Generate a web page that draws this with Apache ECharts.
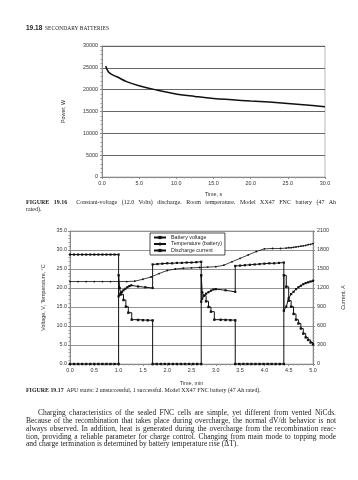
<!DOCTYPE html>
<html><head><meta charset="utf-8">
<script src="https://cdn.jsdelivr.net/npm/echarts@6/dist/echarts.min.js"></script>
<style>
html,body{margin:0;padding:0;background:#fff;}
#c{position:absolute;left:0;top:0;width:358px;height:480px;}
.t{position:absolute;font-family:"Liberation Serif","DejaVu Serif",serif;color:#222;white-space:nowrap;line-height:1;}
.j{position:absolute;font-family:"Liberation Serif","DejaVu Serif",serif;color:#222;white-space:nowrap;line-height:1;text-align:justify;text-align-last:justify;}
</style></head><body>
<div id="c"></div>
<div class="t" style="left:26px;top:25px;font-size:6.5px;font-family:'Liberation Sans',sans-serif;font-weight:bold">19.18</div>
<div class="t" style="left:45px;top:25.5px;font-size:5.4px;letter-spacing:0.1px">SECONDARY BATTERIES</div>
<div class="j" style="left:26px;top:199px;width:310px;font-size:6px;"><b>FIGURE 19.16</b>&nbsp;&nbsp;Constant-voltage (12.0 Volts) discharge. Room temperature. Model XX47 FNC battery (47 Ah</div>
<div class="t" style="left:26px;top:206px;font-size:6px;">rated).</div>
<div class="t" style="left:26px;top:388px;font-size:5.9px;"><b>FIGURE 19.17</b>&nbsp;&nbsp;APU starts: 2 unsuccessful, 1 successful. Model XX47 FNC battery (47 Ah rated).</div>
<div class="j" style="left:38px;top:408.8px;width:298px;font-size:7.5px;">Charging characteristics of the sealed FNC cells are simple, yet different from vented NiCds.</div>
<div class="j" style="left:26px;top:416.7px;width:310px;font-size:7.5px;">Because of the recombination that takes place during overcharge, the normal dV/dt behavior is not</div>
<div class="j" style="left:26px;top:424.6px;width:310px;font-size:7.5px;">always observed. In addition, heat is generated during the overcharge from the recombination reac-</div>
<div class="j" style="left:26px;top:432.5px;width:310px;font-size:7.5px;">tion, providing a reliable parameter for charge control. Changing from main mode to topping mode</div>
<div class="t" style="left:26px;top:440.4px;font-size:7.5px;">and charge termination is determined by battery temperature rise (ΔT).</div>
<script>
// Figure 19.16
const powerTime = [0.5, 0.85, 1.3, 2.0, 3.3, 5.1, 7.4, 10.1, 12.5, 15, 17.5, 20, 22.5, 25, 27.5, 30];
const powerW    = [25400, 24100, 23500, 22950, 21850, 20850, 19900, 18950, 18450, 18000, 17700, 17400, 17150, 16850, 16500, 16100];
const powerXTicks = ['0.0','5.0','10.0','15.0','20.0','25.0','30.0'];

// Figure 19.17
const voltTime = [0,0.083,0.167,0.25,0.333,0.417,0.5,0.583,0.667,0.75,0.833,0.917,1.0,
  1.0,1.02,1.04,1.07,1.1,1.14,1.18,1.22,1.26,1.4,1.55,1.7,
  1.7,1.8,1.9,2.0,2.1,2.2,2.3,2.4,2.5,2.6,2.7,
  2.7,2.72,2.75,2.8,2.85,2.9,2.95,3.0,3.2,3.4,
  3.4,3.5,3.6,3.7,3.8,3.9,4.0,4.1,4.2,4.3,4.4,
  4.4,4.45,4.5,4.55,4.6,4.65,4.7,4.75,4.8,4.85,4.9,4.95,5.0];
const voltV = [28.8,28.8,28.8,28.8,28.8,28.8,28.8,28.8,28.8,28.8,28.8,28.8,28.8,
  17.8,18.2,18.6,19.0,19.4,19.8,20.2,20.5,20.7,20.4,20.2,20.0,
  26.2,26.3,26.4,26.5,26.5,26.6,26.6,26.7,26.7,26.8,26.9,
  16.4,17.2,17.9,18.5,18.9,19.3,19.6,19.7,19.4,19.0,
  25.8,25.9,26.0,26.1,26.2,26.3,26.4,26.5,26.5,26.6,26.7,
  14.0,15.1,17.3,18.4,19.0,19.7,20.2,20.6,21.0,21.3,21.5,21.7,21.9];

const tempTime = [0,0.167,0.333,0.5,0.667,0.833,1.0,1.167,1.333,1.5,1.667,1.833,2.0,2.167,2.333,2.5,2.667,2.833,3.0,3.167,3.333,3.5,3.667,3.833,4.0,4.167,4.333,4.45,4.5,4.55,4.6,4.65,4.7,4.75,4.8,4.85,4.9,4.95,5.0];
const tempC    = [21.7,21.7,21.7,21.7,21.7,21.7,21.7,21.7,21.8,22.3,22.9,23.8,24.6,25.0,25.2,25.3,25.4,25.5,25.6,26.0,26.9,27.8,28.7,29.6,30.3,30.4,30.4,30.5,30.6,30.6,30.7,30.8,30.9,31.0,31.1,31.2,31.4,31.5,31.7];

const curTime = [0,0.083,0.167,0.25,0.333,0.417,0.5,0.583,0.667,0.75,0.833,0.917,1.0,
  1.0,1.02,1.05,1.1,1.15,1.2,1.27,1.4,1.5,1.6,1.7,
  1.7,1.783,1.867,1.95,2.033,2.117,2.2,2.283,2.367,2.45,2.533,2.617,2.7,
  2.7,2.72,2.75,2.8,2.85,2.9,2.97,3.1,3.2,3.3,3.4,
  3.4,3.483,3.567,3.65,3.733,3.817,3.9,3.983,4.067,4.15,4.233,4.317,4.4,
  4.4,4.45,4.5,4.55,4.6,4.65,4.7,4.75,4.8,4.85,4.9,4.95,5.0];
const curA = [0,0,0,0,0,0,0,0,0,0,0,0,0,
  1400,1200,1100,1010,905,810,700,695,692,690,688,
  0,0,0,0,0,0,0,0,0,0,0,0,0,
  1400,1130,1080,990,900,826,700,698,695,692,690,
  0,0,0,0,0,0,0,0,0,0,0,0,0,
  1400,1220,1000,905,790,700,640,560,480,420,380,340,310];

const zip = (a,b)=>a.map((v,i)=>[v,b[i]]);
const lab = {fontSize:5.4,color:'#333',fontFamily:'Liberation Sans, Arial, sans-serif'};
const plain = (v)=>String(v);
const ch = echarts.init(document.getElementById('c'), null, {renderer:'canvas'});
ch.setOption({
  animation:false,
  backgroundColor:'#fff',
  grid:[
    {left:102, top:46, width:223, height:131, show:true, borderColor:'#aaa', borderWidth:0.8},
    {left:70, top:231, width:243, height:133, show:true, borderColor:'#aaa', borderWidth:0.8}
  ],
  legend:{
    left:150, top:233, orient:'vertical', itemGap:1.5, itemWidth:12, itemHeight:4,
    padding:[2,3,2,3], borderColor:'#000', borderWidth:0.7, backgroundColor:'#fff',
    textStyle:{fontSize:5.3,color:'#222',fontFamily:'Liberation Sans, Arial, sans-serif'},
    data:['Battery voltage','Temperature (battery)','Discharge current']
  },
  xAxis:[
    {gridIndex:0, type:'value', min:0, max:30, interval:5,
     name:'Time, s', nameLocation:'middle', nameGap:15, nameTextStyle:lab,
     axisLine:{lineStyle:{color:'#888'}}, axisTick:{length:2,lineStyle:{color:'#888'}},
     minorTick:{show:true,splitNumber:5,length:1.5,lineStyle:{color:'#999'}},
     axisLabel:Object.assign({margin:4, formatter:(v)=>powerXTicks[Math.round(v/5)]},lab),
     splitLine:{show:false}},
    {gridIndex:1, type:'value', min:0, max:5, interval:0.5,
     name:'Time, min', nameLocation:'middle', nameGap:17, nameTextStyle:lab,
     axisLine:{lineStyle:{color:'#888'}}, axisTick:{length:2,lineStyle:{color:'#888'}},
     minorTick:{show:true,splitNumber:5,length:1.5,lineStyle:{color:'#999'}},
     axisLabel:Object.assign({margin:4, formatter:(v)=>v.toFixed(1)},lab),
     splitLine:{show:false}}
  ],
  yAxis:[
    {gridIndex:0, type:'value', min:0, max:30000, interval:5000,
     name:'Power, W', nameLocation:'middle', nameRotate:90, nameGap:36, nameTextStyle:lab,
     axisLine:{show:true,lineStyle:{color:'#888'}}, axisTick:{show:true,length:2,lineStyle:{color:'#888'}},
     minorTick:{show:true,splitNumber:5,length:1.5,lineStyle:{color:'#999'}},
     axisLabel:Object.assign({margin:4, formatter:plain},lab),
     splitLine:{show:true,lineStyle:{color:'#555',width:0.9}}},
    {gridIndex:1, type:'value', min:0, max:35, interval:5,
     name:'Voltage, V, Temperature, °C', nameLocation:'middle', nameRotate:90, nameGap:24, nameTextStyle:lab,
     axisLine:{show:true,lineStyle:{color:'#888'}}, axisTick:{show:true,length:2,lineStyle:{color:'#888'}},
     minorTick:{show:true,splitNumber:5,length:1.5,lineStyle:{color:'#999'}},
     axisLabel:Object.assign({margin:3, formatter:(v)=>v.toFixed(1)},lab),
     splitLine:{show:true,lineStyle:{color:'#888',width:0.9}}},
    {gridIndex:1, type:'value', min:0, max:2100, interval:300, position:'right',
     name:'Current, A', nameLocation:'middle', nameRotate:90, nameGap:28, nameTextStyle:lab,
     axisLine:{show:true,lineStyle:{color:'#888'}}, axisTick:{show:true,length:2,lineStyle:{color:'#888'}},
     minorTick:{show:true,splitNumber:5,length:1.5,lineStyle:{color:'#999'}},
     axisLabel:Object.assign({margin:4, formatter:plain},lab),
     splitLine:{show:false}}
  ],
  series:[
    {type:'line', xAxisIndex:0, yAxisIndex:0, data:zip(powerTime,powerW), smooth:0.4, showSymbol:false,
     lineStyle:{color:'#111',width:1.5}},
    {name:'Battery voltage', type:'line', xAxisIndex:1, yAxisIndex:1, data:zip(voltTime,voltV),
     symbol:'rect', symbolSize:2.2, itemStyle:{color:'#111'}, lineStyle:{color:'#111',width:1}},
    {name:'Temperature (battery)', type:'line', xAxisIndex:1, yAxisIndex:1, data:zip(tempTime,tempC),
     symbol:'circle', symbolSize:1.8, itemStyle:{color:'#111'}, lineStyle:{color:'#111',width:0.8}},
    {name:'Discharge current', type:'line', xAxisIndex:1, yAxisIndex:2, data:zip(curTime,curA), step:'end',
     symbol:'rect', symbolSize:2.4, itemStyle:{color:'#111'}, lineStyle:{color:'#111',width:1}}
  ]
});
</script>
</body></html>
